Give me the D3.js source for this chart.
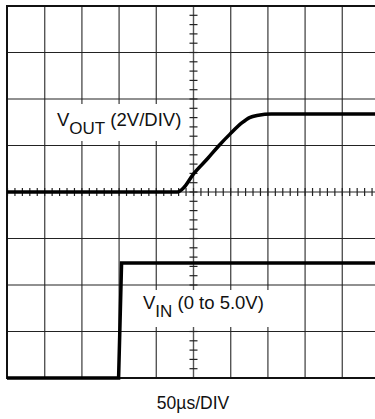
<!DOCTYPE html>
<html>
<head>
<meta charset="utf-8">
<script src="https://cdn.jsdelivr.net/npm/d3@7"></script>
<style>
  body { margin: 0; background: #fff; }
  svg { display: block; font-family: "Liberation Sans", Arial, sans-serif; }
</style>
</head>
<body>
<div id="chart-area"></div>
<script>
// scope capture: 50us/DIV, 2V/DIV, 10 x 8 divisions
var timeDiv = [0, 50, 100, 150, 200, 250, 300, 350, 400, 450, 500];   // us
var voltDiv = [-8, -6, -4, -2, 0, 2, 4, 6, 8];                        // V (VOUT ref)

// VOUT trace (zero on centre line)
var voutTime = [0, 229, 238, 250, 270, 285, 300, 316, 326, 338, 355, 500];
var voutVolt = [0, 0, 0.2, 0.75, 1.45, 2.0, 2.5, 2.98, 3.2, 3.3, 3.35, 3.35];

// VIN trace (zero on bottom line)
var vinTime = [0, 150, 154, 500];
var vinVolt = [0, 0, 4.95, 4.95];

var width = 375, height = 419;

var svg = d3.select('#chart-area')
  .append('svg')
    .attr('width', width)
    .attr('height', height);

var x = d3.scaleLinear().domain([0, 500]).range([7, 379]);
var yOut = d3.scaleLinear().domain([-8, 8]).range([378, 6]);
var yIn = d3.scaleLinear().domain([0, 16]).range([378, 6]);

// vertical grid lines
svg.append('g').selectAll('line')
  .data(timeDiv.slice(1, -1))
  .enter().append('line')
    .attr('x1', function(d) { return x(d) + 0.5; })
    .attr('x2', function(d) { return x(d) + 0.5; })
    .attr('y1', yOut(8))
    .attr('y2', yOut(-8))
    .attr('stroke', '#555')
    .attr('stroke-width', 1.4);

// horizontal grid lines
svg.append('g').selectAll('line')
  .data(voltDiv.slice(1, -1))
  .enter().append('line')
    .attr('x1', x(0))
    .attr('x2', x(500))
    .attr('y1', function(d) { return yOut(d); })
    .attr('y2', function(d) { return yOut(d); })
    .attr('stroke', '#222')
    .attr('stroke-width', 1.2);

// minor ticks on the centre cross
var tMinor = d3.range(0, 501, 10);
var vMinor = d3.range(-8, 8.001, 0.4);

svg.append('g').selectAll('line')
  .data(tMinor)
  .enter().append('line')
    .attr('x1', function(d) { return x(d) + 0.5; })
    .attr('x2', function(d) { return x(d) + 0.5; })
    .attr('y1', yOut(0) - 4)
    .attr('y2', yOut(0) + 4)
    .attr('stroke', '#222')
    .attr('stroke-width', 1.2);

svg.append('g').selectAll('line')
  .data(vMinor)
  .enter().append('line')
    .attr('x1', x(250) - 3.5)
    .attr('x2', x(250) + 4.5)
    .attr('y1', function(d) { return yOut(d); })
    .attr('y2', function(d) { return yOut(d); })
    .attr('stroke', '#222')
    .attr('stroke-width', 1.2);

// border (top, left, bottom)
svg.append('path')
  .attr('d', 'M' + (x(500)) + ',' + yOut(8) + 'H' + x(0) + 'V' + yOut(-8) + 'H' + x(500))
  .attr('fill', 'none')
  .attr('stroke', '#111')
  .attr('stroke-width', 2);

// label backgrounds hide the grid behind the text
svg.append('rect')
  .attr('x', 47).attr('y', 104)
  .attr('width', 142).attr('height', 37)
  .attr('fill', '#fff');

svg.append('rect')
  .attr('x', 138).attr('y', 290)
  .attr('width', 150).attr('height', 37)
  .attr('fill', '#fff');

// traces
var line = function(ys) {
  return d3.line()
    .x(function(d) { return x(d.t); })
    .y(function(d) { return ys(d.v); })
    .curve(d3.curveMonotoneX);
};

var vout = voutTime.map(function(t, i) { return { t: t, v: voutVolt[i] }; });
var vin = vinTime.map(function(t, i) { return { t: t, v: vinVolt[i] }; });

svg.append('path')
  .datum(vout)
  .attr('d', line(yOut))
  .attr('fill', 'none')
  .attr('stroke', '#000')
  .attr('stroke-width', 3.5)
  .attr('stroke-linejoin', 'round');

svg.append('path')
  .datum(vin)
  .attr('d', line(yIn).curve(d3.curveLinear))
  .attr('fill', 'none')
  .attr('stroke', '#000')
  .attr('stroke-width', 3.5);

// labels
var t1 = svg.append('text')
  .attr('x', 57).attr('y', 126)
  .attr('font-size', '18.5px')
  .attr('fill', '#111');
t1.append('tspan').text('V');
t1.append('tspan').attr('dy', 8).attr('font-size', '17px').text('OUT');
t1.append('tspan').attr('dy', -8).text(' (2V/DIV)');

var t2 = svg.append('text')
  .attr('x', 143).attr('y', 309)
  .attr('font-size', '18.5px')
  .attr('fill', '#111');
t2.append('tspan').text('V');
t2.append('tspan').attr('dy', 8).attr('font-size', '17px').text('IN');
t2.append('tspan').attr('dy', -8).text(' (0 to 5.0V)');

svg.append('text')
  .attr('x', x(250))
  .attr('y', 409)
  .attr('text-anchor', 'middle')
  .attr('font-size', '17.5px')
  .attr('fill', '#111')
  .text('50µs/DIV');
</script>
</body>
</html>
